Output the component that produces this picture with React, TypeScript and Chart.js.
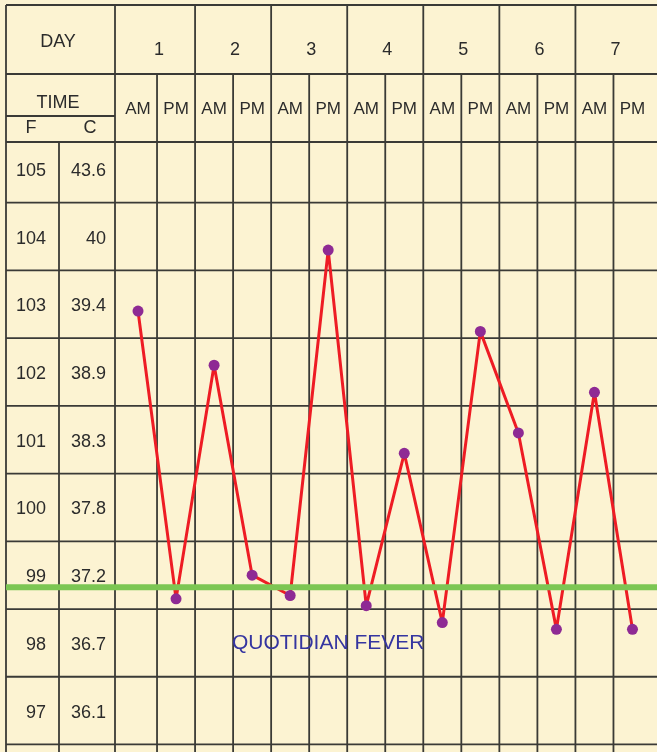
import React, { useEffect, useRef } from "react";
import { Chart, registerables } from "chart.js";

Chart.register(...registerables);

const days = ["1", "2", "3", "4", "5", "6", "7"];
const times = ["AM", "PM", "AM", "PM", "AM", "PM", "AM", "PM", "AM", "PM", "AM", "PM", "AM", "PM"];
const temperatures = [102.9, 98.65, 102.1, 99.0, 98.7, 103.8, 98.55, 100.8, 98.3, 102.6, 101.1, 98.2, 101.7, 98.2];
const fahrenheitTicks = [105, 104, 103, 102, 101, 100, 99, 98, 97];
const celsiusTicks = ["43.6", "40", "39.4", "38.9", "38.3", "37.8", "37.2", "36.7", "36.1"];
const normalTemp = 98.82;
const noteText = "QUOTIDIAN FEVER";
const noteX = 5.0;
const noteY = 98.0;

const FONT = '"Liberation Sans", Arial, sans-serif';
const BG = "#fcf3d2";
const GRID = "#3a3a36";
const TEXT = "#2b2b2b";

const LABEL_COL_RIGHT = 115;
const HEADER_BOTTOM = 142;

const tablePlugin = {
  id: "feverTable",
  beforeDraw(chart: any) {
    const { ctx, width, height } = chart;
    ctx.save();
    ctx.fillStyle = BG;
    ctx.fillRect(0, 0, width, height);
    ctx.restore();
  },
  beforeDatasetsDraw(chart: any) {
    const { ctx, chartArea, width, height, scales } = chart;
    const xs = scales.x;
    const ys = scales.y;
    const L = chartArea.left;
    const n = times.length;
    const colW = (chartArea.right - chartArea.left) / n;
    const tableLeft = 6;
    const tableTop = 5;
    const dayRowBottom = 74;
    const subLineY = 116;
    const fcDivider = 59;

    ctx.save();
    ctx.strokeStyle = GRID;
    ctx.lineWidth = 1.8;
    const line = (x1: number, y1: number, x2: number, y2: number) => {
      ctx.beginPath();
      ctx.moveTo(x1, y1);
      ctx.lineTo(x2, y2);
      ctx.stroke();
    };
    // outer frame and header lines
    line(tableLeft, tableTop, width, tableTop);
    line(tableLeft, tableTop, tableLeft, height);
    line(tableLeft, dayRowBottom, width, dayRowBottom);
    line(tableLeft, HEADER_BOTTOM, width, HEADER_BOTTOM);
    line(tableLeft, subLineY, LABEL_COL_RIGHT, subLineY);
    line(LABEL_COL_RIGHT, tableTop, LABEL_COL_RIGHT, height);
    line(fcDivider, HEADER_BOTTOM, fcDivider, height);
    // column lines
    for (let k = 1; k < n; k++) {
      const x = L + k * colW;
      line(x, k % 2 === 0 ? tableTop : dayRowBottom, x, height);
    }
    // row lines
    fahrenheitTicks.forEach((v) => {
      const y = ys.getPixelForValue(v - 0.5);
      if (y > HEADER_BOTTOM + 2 && y <= height) line(tableLeft, Math.min(y, height - 2), width, Math.min(y, height - 2));
    });

    // header text
    ctx.fillStyle = TEXT;
    ctx.textBaseline = "middle";
    ctx.textAlign = "center";
    ctx.font = `18px ${FONT}`;
    ctx.fillText("DAY", 58, 42);
    days.forEach((d, i) => {
      ctx.fillText(d, L + (2 * i + 1) * colW + 2, 50);
    });
    ctx.fillText("TIME", 58, 103);
    ctx.fillText("F", 31, 128);
    ctx.fillText("C", 90, 128);
    ctx.font = `17px ${FONT}`;
    times.forEach((t, i) => {
      ctx.fillText(t, xs.getPixelForValue(i), 109);
    });
    // row labels
    ctx.font = `18px ${FONT}`;
    ctx.textAlign = "right";
    fahrenheitTicks.forEach((v, i) => {
      const y = ys.getPixelForValue(v) + 2;
      ctx.fillText(String(v), 46, y);
      ctx.fillText(celsiusTicks[i], 106, y);
    });

    // note
    const i0 = Math.floor(noteX);
    const x0 = xs.getPixelForValue(i0);
    const x1 = xs.getPixelForValue(i0 + 1);
    const nx = x0 + (x1 - x0) * (noteX - i0);
    ctx.fillStyle = "#3535a0";
    ctx.textAlign = "center";
    ctx.font = `21px ${FONT}`;
    ctx.fillText(noteText, nx, ys.getPixelForValue(noteY));
    ctx.restore();
  },
  afterDatasetDraw(chart: any, args: any) {
    if (args.index !== 1) return;
    const { ctx, width, scales } = chart;
    const gy = scales.y.getPixelForValue(normalTemp);
    ctx.save();
    ctx.strokeStyle = "#7cc653";
    ctx.lineWidth = 6;
    ctx.beginPath();
    ctx.moveTo(6, gy);
    ctx.lineTo(width, gy);
    ctx.stroke();
    ctx.restore();
  },
};

export default function App() {
  const ref = useRef<HTMLCanvasElement>(null);
  useEffect(() => {
    if (!ref.current) return;
    const chart = new Chart(ref.current, {
      type: "line",
      data: {
        labels: times,
        datasets: [
          {
            data: temperatures,
            showLine: false,
            pointRadius: 5.5,
            pointBackgroundColor: "#8e2a94",
            pointBorderWidth: 0,
            pointBorderColor: "#8e2a94",
          },
          {
            data: temperatures,
            borderColor: "#ee1c24",
            borderWidth: 3,
            borderJoinStyle: "round",
            tension: 0,
            pointRadius: 0,
          },
        ],
      },
      options: {
        animation: false,
        responsive: false,
        devicePixelRatio: 1,
        layout: { padding: { left: 119, top: 135, right: -6.6, bottom: 0 } },
        plugins: { legend: { display: false }, tooltip: { enabled: false } },
        scales: {
          x: { type: "category", offset: true, display: false },
          y: { type: "linear", min: 96.47, max: 105.5, display: false },
        },
      },
      plugins: [tablePlugin],
    });
    return () => chart.destroy();
  }, []);
  return (
    <div style={{ position: "absolute", left: 0, top: 0, width: 657, height: 752 }}>
      <canvas ref={ref} width={657} height={752} style={{ display: "block" }} />
    </div>
  );
}
